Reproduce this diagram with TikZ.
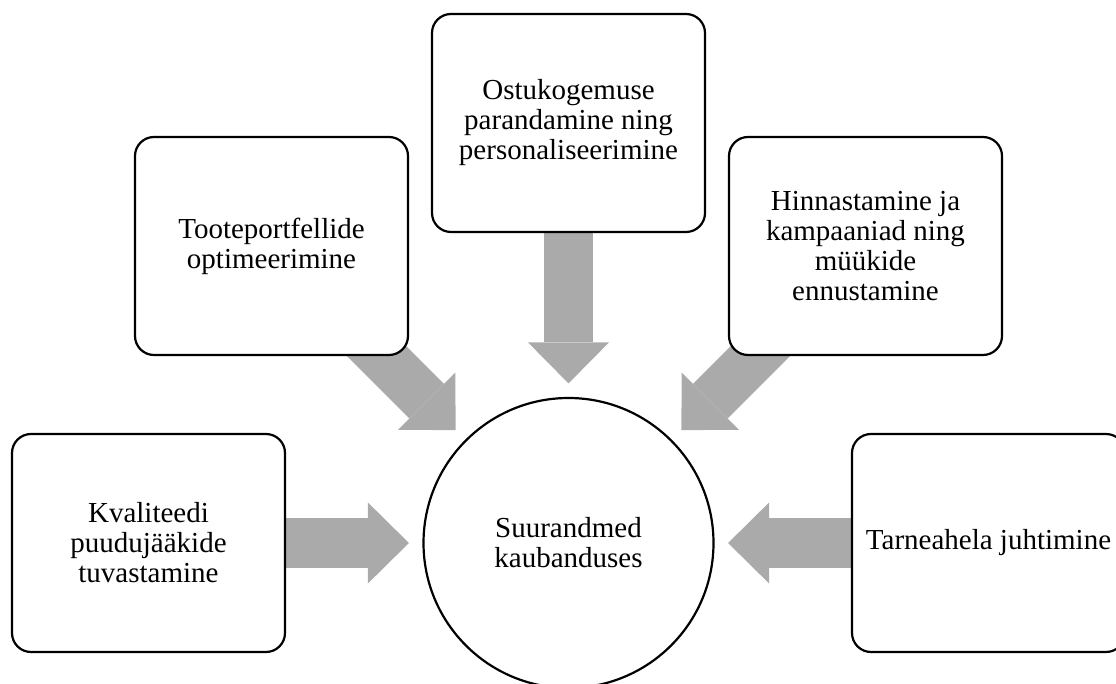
\documentclass[tikz,border=0pt]{standalone}
\usepackage{fontspec}
\setmainfont{Liberation Serif}
\usetikzlibrary{arrows.meta}
\pgfdeclarelayer{background}
\pgfsetlayers{background,main}
\definecolor{arrowgray}{RGB}{170,170,170}
\begin{document}
\begin{tikzpicture}[x=1pt,y=1pt,
  txt/.style={align=center, font=\fontsize{29}{30}\selectfont},
  box/.style={txt, draw, line width=2.2pt, rounded corners=19pt, fill=white,
    minimum width=273pt, minimum height=218pt, inner sep=0pt},
  hubstyle/.style={txt, circle, draw, line width=2.2pt, fill=white,
    minimum size=290pt, inner sep=0pt},
  bigarrow/.style={draw=arrowgray, line width=49pt,
    -{Triangle[width=81pt,length=41pt,line width=0pt]}, shorten >=13.5pt}]
\useasboundingbox (0,0) rectangle (1116,683);
\clip (0,0) rectangle (1116,683);
\node[hubstyle] (hub) at (568.5,140) {Suurandmed\\kaubanduses};
\node[box] (left) at (148.5,140) {Kvaliteedi\\puudujääkide\\tuvastamine};
\node[box] (right) at (988.5,140) {Tarneahela juhtimine};
\node[box] (tl) at (271.5,437) {Tooteportfellide\\optimeerimine};
\node[box] (tr) at (865.5,437) {Hinnastamine ja\\kampaaniad ning\\müükide\\ennustamine};
\node[box] (top) at (568.5,560) {Ostukogemuse\\parandamine ning\\personaliseerimine};
\begin{pgfonlayer}{background}
\draw[bigarrow] (left.center) -- (hub);
\draw[bigarrow] (right.center) -- (hub);
\draw[bigarrow] (tl.center) -- (hub);
\draw[bigarrow] (tr.center) -- (hub);
\draw[bigarrow] (top.center) -- (hub);
\end{pgfonlayer}
\end{tikzpicture}
\end{document}
